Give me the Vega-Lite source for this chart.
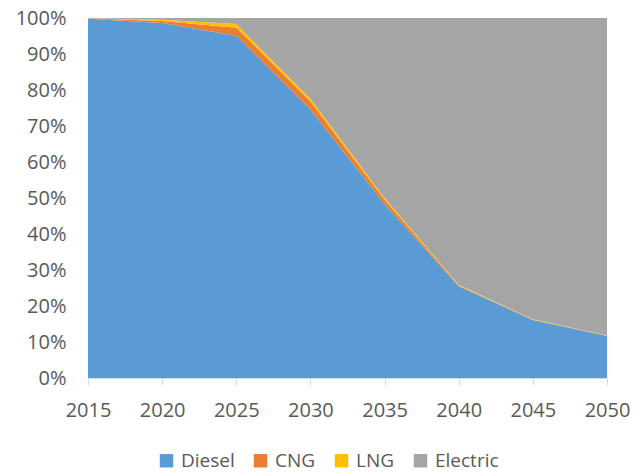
{
  "$schema": "https://vega.github.io/schema/vega-lite/v6.json",
  "autosize": {"type": "none"},
  "width": 519,
  "height": 360,
  "padding": {"left": 88, "top": 18, "right": 26, "bottom": 94},
  "background": "white",
  "config": {
    "view": {"stroke": null},
    "font": "Open Sans",
    "axis": {"labelFont": "Open Sans", "labelColor": "#595959", "labelFontSize": 20, "grid": false}
  },
  "data": {
    "values": [
      {"year": 2015, "fuel": "Diesel", "o": 1, "share": 99.8},
      {"year": 2015, "fuel": "CNG", "o": 2, "share": 0.1},
      {"year": 2015, "fuel": "LNG", "o": 3, "share": 0.05},
      {"year": 2015, "fuel": "Electric", "o": 4, "share": 0.05},
      {"year": 2020, "fuel": "Diesel", "o": 1, "share": 98.6},
      {"year": 2020, "fuel": "CNG", "o": 2, "share": 0.6},
      {"year": 2020, "fuel": "LNG", "o": 3, "share": 0.3},
      {"year": 2020, "fuel": "Electric", "o": 4, "share": 0.5},
      {"year": 2025, "fuel": "Diesel", "o": 1, "share": 95.1},
      {"year": 2025, "fuel": "CNG", "o": 2, "share": 2.2},
      {"year": 2025, "fuel": "LNG", "o": 3, "share": 1.0},
      {"year": 2025, "fuel": "Electric", "o": 4, "share": 1.7},
      {"year": 2030, "fuel": "Diesel", "o": 1, "share": 74.6},
      {"year": 2030, "fuel": "CNG", "o": 2, "share": 2.2},
      {"year": 2030, "fuel": "LNG", "o": 3, "share": 0.8},
      {"year": 2030, "fuel": "Electric", "o": 4, "share": 22.4},
      {"year": 2035, "fuel": "Diesel", "o": 1, "share": 48.3},
      {"year": 2035, "fuel": "CNG", "o": 2, "share": 1.2},
      {"year": 2035, "fuel": "LNG", "o": 3, "share": 0.5},
      {"year": 2035, "fuel": "Electric", "o": 4, "share": 50.0},
      {"year": 2040, "fuel": "Diesel", "o": 1, "share": 25.5},
      {"year": 2040, "fuel": "CNG", "o": 2, "share": 0.2},
      {"year": 2040, "fuel": "LNG", "o": 3, "share": 0.2},
      {"year": 2040, "fuel": "Electric", "o": 4, "share": 74.1},
      {"year": 2045, "fuel": "Diesel", "o": 1, "share": 16.1},
      {"year": 2045, "fuel": "CNG", "o": 2, "share": 0.1},
      {"year": 2045, "fuel": "LNG", "o": 3, "share": 0.1},
      {"year": 2045, "fuel": "Electric", "o": 4, "share": 83.7},
      {"year": 2050, "fuel": "Diesel", "o": 1, "share": 11.7},
      {"year": 2050, "fuel": "CNG", "o": 2, "share": 0.05},
      {"year": 2050, "fuel": "LNG", "o": 3, "share": 0.05},
      {"year": 2050, "fuel": "Electric", "o": 4, "share": 88.2}
    ]
  },
  "mark": {"type": "area", "interpolate": "linear"},
  "encoding": {
    "x": {
      "field": "year", "type": "quantitative",
      "scale": {"domain": [2015, 2050], "nice": false, "zero": false},
      "axis": {"title": null, "values": [2015, 2020, 2025, 2030, 2035, 2040, 2045, 2050], "format": "d",
               "domainColor": "#D9D9D9", "tickColor": "#D9D9D9", "tickSize": 7, "labelPadding": 15, "labelFlush": false}
    },
    "y": {
      "field": "share", "type": "quantitative", "stack": "normalize",
      "scale": {"domain": [0, 1]},
      "axis": {"title": null, "format": ".0%", "values": [0, 0.1, 0.2, 0.3, 0.4, 0.5, 0.6, 0.7, 0.8, 0.9, 1],
               "domain": false, "ticks": false, "labelPadding": 22}
    },
    "color": {
      "field": "fuel", "type": "nominal",
      "scale": {"domain": ["Diesel", "CNG", "LNG", "Electric"], "range": ["#5B9BD5", "#ED7D31", "#FFC000", "#A5A5A5"]},
      "legend": {"title": null, "orient": "none", "direction": "horizontal", "legendX": 69, "legendY": 433,
                 "symbolType": "square", "symbolSize": 180, "symbolStrokeWidth": 0,
                 "labelFontSize": 19, "labelColor": "#595959", "labelFont": "Open Sans", "columnPadding": 16, "labelOffset": 5}
    },
    "order": {"field": "o", "type": "quantitative"}
  }
}
